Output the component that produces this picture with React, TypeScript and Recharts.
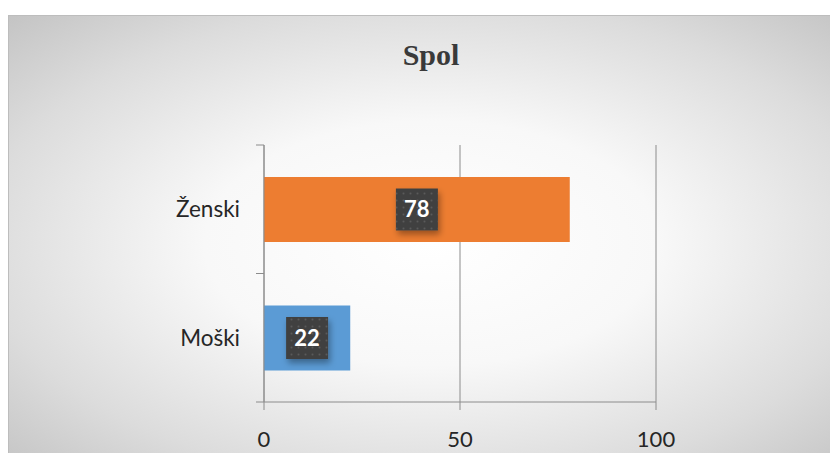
import { BarChart, Bar, XAxis, YAxis, CartesianGrid, LabelList } from "recharts";

const categories = ["Ženski", "Moški"];
const values = [78, 22];
const colors = ["#ED7D31", "#5B9BD5"];
const xTicks = [0, 50, 100];

const data = categories.map((name, i) => ({ name, value: values[i], color: colors[i] }));

const FONT = "Lato, 'Open Sans', sans-serif";

function CategoryTick(props: any) {
  const { x, y, payload } = props;
  const half = 64.25;
  return (
    <g>
      <line x1={248} x2={256} y1={y - half} y2={y - half} stroke="#8c8c8c" />
      <line x1={248} x2={256} y1={y + half} y2={y + half} stroke="#8c8c8c" />
      <text x={x} y={y} dy="0.35em" textAnchor="end" fontSize={22.5} fill="#262626" fontFamily={FONT}>
        {payload.value}
      </text>
    </g>
  );
}

function ValueLabel(props: any) {
  const { x, y, width, height, value } = props;
  const cx = x + width / 2;
  const cy = y + height / 2;
  const w = 42;
  const h = 42;
  return (
    <g>
      <rect x={cx - w / 2} y={cy - h / 2} width={w} height={h} fill="#404040" filter="url(#lblShadow)" />
      <rect x={cx - w / 2} y={cy - h / 2} width={w} height={h} fill="url(#dots)" />
      <text x={cx} y={cy} dy="0.36em" textAnchor="middle" fill="#ffffff" fontSize={22} fontWeight={700} fontFamily={FONT}>
        {value}
      </text>
    </g>
  );
}

export default function App() {
  return (
    <div
      style={{
        position: "relative",
        marginTop: 7,
        width: 830,
        height: 438,
        borderTop: "1px solid #bdbdbd",
        borderLeft: "1px solid #bdbdbd",
        boxSizing: "border-box",
        background: "radial-gradient(ellipse farthest-corner at 51% 52%, #ffffff 0%, #f8f8f8 38%, #dcdcdc 75%, #c4c4c4 100%)",
        overflow: "hidden",
      }}
    >
      <div
        style={{
          position: "absolute",
          left: 422,
          top: 22,
          transform: "translateX(-50%)",
          fontFamily: "'Liberation Serif', 'Times New Roman', serif",
          fontWeight: 700,
          fontSize: 30,
          color: "#3a3a3a",
        }}
      >
        Spol
      </div>
      <div style={{ position: "absolute", left: -1, top: -1 }}>
        <BarChart
          width={830}
          height={438}
          data={data}
          layout="vertical"
          margin={{ top: 130, right: 182, left: 176, bottom: 11 }}
        >
          <defs>
            <filter id="lblShadow" x="-30%" y="-30%" width="170%" height="170%">
              <feDropShadow dx={2} dy={4} stdDeviation={3} floodColor="#000" floodOpacity={0.35} />
            </filter>
            <pattern id="dots" width={7} height={7} patternUnits="userSpaceOnUse">
              <circle cx={3.5} cy={3.5} r={1} fill="#5a5a5a" />
            </pattern>
          </defs>
          <CartesianGrid horizontal={false} stroke="#8c8c8c" />
          <XAxis
            type="number"
            domain={[0, 100]}
            ticks={xTicks}
            stroke="#8c8c8c"
            tickSize={8}
            tickMargin={21}
            height={40}
            tick={{ fontSize: 22, fill: "#262626", fontFamily: FONT }}
          />
          <YAxis
            type="category"
            dataKey="name"
            width={80}
            stroke="#8c8c8c"
            tickLine={false}
            tickSize={8}
            tickMargin={16}
            tick={<CategoryTick />}
          />
          <Bar dataKey="value" barSize={65} isAnimationActive={false} shape={(p: any) => (
            <rect x={p.x} y={p.y} width={p.width} height={p.height} fill={p.payload.color} />
          )}>
            <LabelList dataKey="value" content={<ValueLabel />} />
          </Bar>
        </BarChart>
      </div>
    </div>
  );
}
